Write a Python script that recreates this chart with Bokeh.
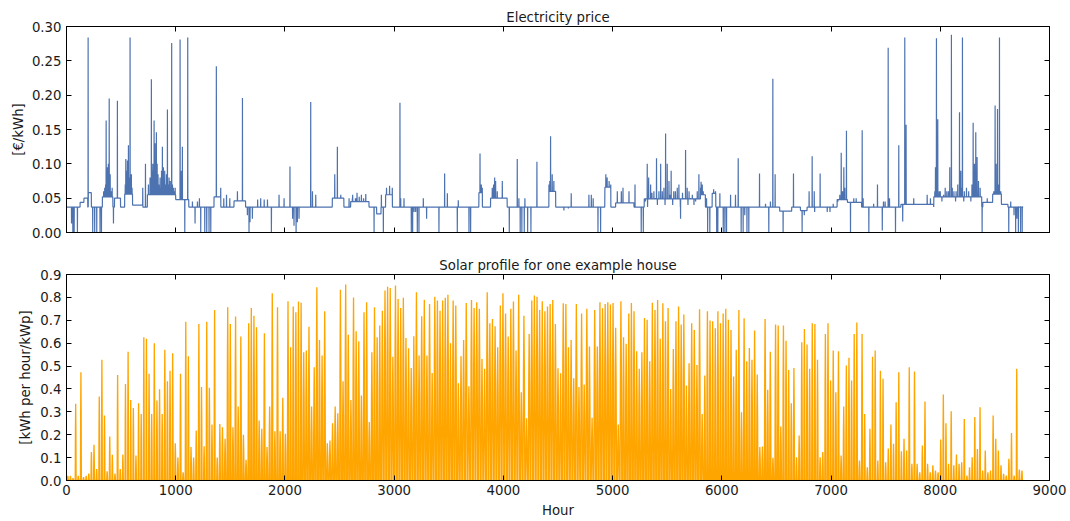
import numpy as np
from bokeh.plotting import figure
from bokeh.layouts import column
from bokeh.models import (LinearAxis, FixedTicker, PrintfTickFormatter, Range1d,
                          CustomLabelingPolicy)
from bokeh.embed import file_html
from bokeh.resources import INLINE

HOURS_PER_YEAR = 8760
X_TICKS = list(range(0, 9001, 1000))
PRICE_TICKS = [0.00, 0.05, 0.10, 0.15, 0.20, 0.25, 0.30]
SOLAR_TICKS = [0.0, 0.1, 0.2, 0.3, 0.4, 0.5, 0.6, 0.7, 0.8, 0.9]

# ---------------- electricity price [EUR/kWh], hourly ----------------
PRICE_BASE = 0.037

# blocks of hours where the price sits at another level
BAND_START = [125, 160, 200, 329, 440, 533, 605, 741, 1000, 1351, 1534, 2434,
              2602, 2840, 2922, 3776, 3883, 4417, 4929, 5028, 5290,
              5805, 5912, 6530, 6720, 7056, 7150, 7640, 7941, 8390, 8480, 8560]
BAND_END = [160, 195, 228, 425, 495, 605, 700, 1000, 1120, 1412, 1640, 2540,
            2770, 2880, 2983, 3807, 4035, 4478, 4983, 5196, 5805,
            5850, 5945, 6640, 6781, 7150, 7280, 7940, 8380, 8480, 8560, 8620]
BAND_LEVEL = [0.044, 0.05, 0.058, 0.052, 0.05, 0.056, 0.04, 0.055, 0.048, 0.052, 0.046, 0.05,
              0.045, 0.027, 0.055, 0.058, 0.05, 0.06, 0.066, 0.043, 0.049,
              0.055, 0.057, 0.031, 0.032, 0.048, 0.044, 0.041, 0.052, 0.044, 0.056, 0.041]

# single-hour price peaks
SPIKE_HOUR = [198, 340, 350, 358, 363, 370, 375, 383, 391, 395, 400, 410, 418, 466,
              538, 543, 550, 558, 567, 575, 582, 588, 594, 600, 698, 723,
              750, 765, 770, 777, 783, 790, 795, 802, 811, 815, 823, 830, 838, 845,
              857, 865, 870, 878, 887, 893, 899, 905, 915, 924, 930, 939, 950, 955,
              963, 970, 979, 985, 995, 1040, 1049, 1061, 1110, 1153, 1199, 1217,
              1372, 1412, 1440, 1465, 1495, 1565, 1611, 1750, 1778, 1810, 1840,
              1946, 1992, 2046, 2236, 2252, 2282, 2456, 2480, 2511, 2587, 2617, 2648,
              2620, 2645, 2660, 2680, 2700, 2720, 2740, 2883, 2930, 2958, 2983,
              3053, 3060, 3090, 3267, 3462, 3487, 3587, 3786, 3798, 3807,
              3898, 3910, 3920, 3929, 3944, 3990, 4011, 4127, 4142, 4197, 4307,
              4417, 4425, 4432, 4447, 4462, 4478, 4621, 4783, 4805, 4822,
              4929, 4938, 4950, 4968, 4983, 5043, 5080, 5095, 5150, 5205,
              5300, 5317, 5330, 5348, 5360, 5378, 5390, 5402, 5424, 5440, 5455,
              5470, 5485, 5500, 5516, 5525, 5536, 5560, 5575, 5592, 5607, 5640,
              5653, 5668, 5683, 5700, 5714, 5730, 5760, 5775, 5790, 5805,
              5821, 5836, 5860,
              5810, 5820, 5830, 5925, 5942, 5982, 6080, 6125, 6150, 6345, 6400,
              6445, 6467, 6488, 6656, 6799, 6827, 6846, 6900, 7020, 7062, 7080,
              7093, 7105, 7117, 7126, 7141, 7208, 7230, 7285, 7294, 7390, 7425,
              7480, 7495, 7523, 7535, 7620, 7675, 7687, 7757, 7880, 7910, 7950,
              7956, 7965, 7977, 7990, 8000, 8030, 8045, 8060, 8075, 8087, 8102,
              8110, 8125, 8145, 8160, 8176, 8188, 8195, 8203, 8220, 8240, 8260,
              8290, 8301, 8313, 8325, 8337, 8350, 8365, 8430, 8490,
              8502, 8511, 8524, 8533, 8542, 8554, 8645]
SPIKE_VALUE = [0.284, 0.06, 0.065, 0.07, 0.163, 0.075, 0.095, 0.1, 0.195, 0.085, 0.085, 0.06, 0.065, 0.192,
               0.07, 0.107, 0.09, 0.105, 0.127, 0.08, 0.284, 0.075, 0.085, 0.065, 0.065, 0.1,
               0.07, 0.08, 0.06, 0.223, 0.09, 0.1, 0.075, 0.163, 0.13, 0.07, 0.146, 0.1, 0.085, 0.07,
               0.08, 0.065, 0.09, 0.125, 0.095, 0.075, 0.09, 0.07, 0.085, 0.179, 0.07, 0.08, 0.075, 0.065,
               0.276, 0.07, 0.065, 0.06, 0.065, 0.281, 0.09, 0.125, 0.284, 0.045, 0.045, 0.05,
               0.242, 0.065, 0.05, 0.055, 0.05, 0.06, 0.196, 0.048, 0.05, 0.048, 0.048,
               0.055, 0.05, 0.096, 0.19, 0.06, 0.055, 0.085, 0.125, 0.055, 0.05, 0.05, 0.05,
               0.055, 0.05, 0.058, 0.052, 0.055, 0.05, 0.056, 0.055, 0.065, 0.068, 0.065,
               0.189, 0.05, 0.05, 0.05, 0.086, 0.057, 0.047, 0.115, 0.07, 0.065,
               0.065, 0.07, 0.08, 0.075, 0.06, 0.075, 0.05, 0.107, 0.05, 0.05, 0.103,
               0.07, 0.075, 0.14, 0.085, 0.075, 0.06, 0.057, 0.055, 0.055, 0.05,
               0.06, 0.085, 0.08, 0.075, 0.07, 0.06, 0.06, 0.065, 0.06, 0.07,
               0.045, 0.1, 0.08, 0.07, 0.058, 0.06, 0.05, 0.108, 0.06, 0.1, 0.06,
               0.065, 0.144, 0.1, 0.075, 0.055, 0.09, 0.06, 0.06, 0.065, 0.07, 0.058,
               0.05, 0.12, 0.065, 0.06, 0.05, 0.055, 0.045, 0.06, 0.085, 0.065,
               0.07, 0.055, 0.05,
               0.074, 0.066, 0.06, 0.063, 0.06, 0.057, 0.055, 0.055, 0.108, 0.086, 0.042,
               0.045, 0.224, 0.085, 0.086, 0.06, 0.111, 0.06, 0.086, 0.042, 0.045, 0.055,
               0.116, 0.06, 0.095, 0.065, 0.148, 0.05, 0.05, 0.149, 0.05, 0.042, 0.07,
               0.045, 0.045, 0.269, 0.05, 0.127, 0.284, 0.157, 0.05, 0.055, 0.05, 0.06,
               0.095, 0.283, 0.165, 0.06, 0.06, 0.055, 0.065, 0.06, 0.06, 0.095, 0.288,
               0.065, 0.06, 0.06, 0.07, 0.175, 0.09, 0.065, 0.284, 0.06, 0.065, 0.06,
               0.07, 0.16, 0.1, 0.146, 0.11, 0.075, 0.065, 0.05, 0.06,
               0.185, 0.1, 0.18, 0.07, 0.284, 0.06, 0.045]

# single-hour price drops
DIP_HOUR = [46, 58, 64, 70, 100, 240, 258, 277, 307, 320, 430, 1083, 1177, 1229, 1266,
            1284, 1305, 1321, 1656, 1671, 1680, 1702, 1876, 2070, 2083, 2102, 2114, 2129,
            2816, 2901, 3157, 3169, 3182, 3197, 3212, 3227, 3297, 3410, 3578, 3685, 3700,
            4054, 4154, 4169, 4191, 4222, 4252, 4554, 4595, 4866, 4890, 5262, 5281,
            5320, 5410, 5480, 5550, 5620, 5622, 5690, 5745, 8015, 8140, 8215, 8280,
            5870, 5890, 5953, 5963, 6013, 6028, 6043, 6177, 6195, 6210, 6230, 6247, 6430,
            6561, 6735, 6755, 6850, 6965, 6990, 7178, 7346, 7469, 7590, 7656, 8383, 8627,
            8675, 8690, 8702, 8715, 8735, 8750]
DIP_VALUE = [0.013, 0.0, 0.0, 0.0, 0.0, 0.0, 0.0, 0.0, 0.0, 0.0, 0.013, 0.0, 0.013, 0.0, 0.0,
             0.0, 0.0, 0.0, 0.025, 0.0, 0.015, 0.02, 0.0, 0.02, 0.01, 0.0, 0.015, 0.02,
             0.0, 0.0, 0.0, 0.0, 0.03, 0.03, 0.0, 0.0, 0.02, 0.0, 0.0, 0.0, 0.0,
             0.0, 0.0, 0.0, 0.0, 0.0, 0.0, 0.032, 0.035, 0.0, 0.0, 0.0, 0.0,
             0.037, 0.04, 0.04, 0.04, 0.037, 0.02, 0.04, 0.04, 0.045, 0.045, 0.045, 0.045,
             0.0, 0.0, 0.0, 0.0, 0.0, 0.0, 0.0, 0.0, 0.0, 0.025, 0.0, 0.0, 0.0,
             0.0, 0.0, 0.025, 0.03, 0.03, 0.03, 0.0, 0.0, 0.003, 0.0, 0.016, 0.0, 0.0,
             0.025, 0.0, 0.02, 0.0, 0.0, 0.0]

# ---------------- solar yield [kWh per hour / kWp] ----------------
# midday peak of each day of the year
DAILY_PEAK = [
    0.02, 0.02, 0.01, 0.335, 0.02, 0.473, 0.015, 0.02, 0.03, 0.124,
    0.156, 0.05, 0.367, 0.527, 0.284, 0.04, 0.192, 0.112, 0.03, 0.461,
    0.05, 0.114, 0.422, 0.563, 0.352, 0.317, 0.109, 0.338, 0.291, 0.626,
    0.619, 0.466, 0.291, 0.60, 0.349, 0.399, 0.291, 0.571, 0.434, 0.48,
    0.556, 0.163, 0.10, 0.466, 0.036, 0.694, 0.543, 0.146, 0.10, 0.218,
    0.684, 0.408, 0.15, 0.694, 0.405, 0.245, 0.745, 0.10, 0.247, 0.233,
    0.182, 0.757, 0.684, 0.233, 0.716, 0.323, 0.629, 0.20, 0.09, 0.687,
    0.754, 0.72, 0.67, 0.262, 0.226, 0.643, 0.146, 0.323, 0.818, 0.215,
    0.757, 0.215, 0.361, 0.204, 0.783, 0.582, 0.76, 0.735, 0.782, 0.777,
    0.56, 0.568, 0.672, 0.323, 0.495, 0.844, 0.614, 0.546, 0.739, 0.163,
    0.175, 0.25, 0.323, 0.294, 0.833, 0.434, 0.856, 0.637, 0.352, 0.80,
    0.652, 0.608, 0.371, 0.735, 0.779, 0.255, 0.56, 0.757, 0.626, 0.677,
    0.742, 0.83, 0.847, 0.841, 0.541, 0.852, 0.793, 0.754, 0.798, 0.623,
    0.578, 0.492, 0.63, 0.822, 0.546, 0.718, 0.79, 0.546, 0.771, 0.47,
    0.803, 0.786, 0.742, 0.786, 0.798, 0.811, 0.60, 0.786, 0.764, 0.425,
    0.543, 0.614, 0.776, 0.412, 0.789, 0.754, 0.779, 0.75, 0.531, 0.488,
    0.822, 0.687, 0.706, 0.674, 0.582, 0.764, 0.818, 0.73, 0.629, 0.75,
    0.782, 0.568, 0.812, 0.386, 0.72, 0.272, 0.64, 0.786, 0.808, 0.803,
    0.745, 0.783, 0.739, 0.76, 0.771, 0.789, 0.684, 0.49, 0.469, 0.774,
    0.771, 0.582, 0.614, 0.447, 0.771, 0.408, 0.73, 0.419, 0.75, 0.585,
    0.274, 0.745, 0.585, 0.779, 0.753, 0.771, 0.779, 0.769, 0.776, 0.667,
    0.245, 0.783, 0.626, 0.597, 0.73, 0.776, 0.739, 0.565, 0.488, 0.56,
    0.71, 0.702, 0.521, 0.777, 0.745, 0.789, 0.619, 0.774, 0.696, 0.754,
    0.40, 0.575, 0.696, 0.76, 0.681, 0.725, 0.415, 0.512, 0.687, 0.658,
    0.505, 0.748, 0.291, 0.459, 0.739, 0.699, 0.696, 0.665, 0.739, 0.687,
    0.73, 0.75, 0.702, 0.658, 0.454, 0.571, 0.745, 0.298, 0.709, 0.521,
    0.579, 0.527, 0.655, 0.463, 0.146, 0.148, 0.706, 0.396, 0.563, 0.099,
    0.681, 0.677, 0.236, 0.677, 0.611, 0.483, 0.338, 0.492, 0.102, 0.197,
    0.604, 0.662, 0.594, 0.488, 0.687, 0.684, 0.527, 0.102, 0.124, 0.64,
    0.687, 0.437, 0.568, 0.386, 0.565, 0.109, 0.323, 0.502, 0.536, 0.437,
    0.64, 0.69, 0.087, 0.64, 0.291, 0.058, 0.226, 0.541, 0.568, 0.087,
    0.48, 0.444, 0.08, 0.14, 0.245, 0.16, 0.342, 0.473, 0.128, 0.182,
    0.131, 0.495, 0.073, 0.476, 0.073, 0.036, 0.153, 0.345, 0.073, 0.036,
    0.066, 0.044, 0.036, 0.179, 0.376, 0.25, 0.073, 0.303, 0.066, 0.114,
    0.073, 0.08, 0.269, 0.022, 0.058, 0.102, 0.277, 0.138, 0.32, 0.044,
    0.131, 0.036, 0.044, 0.284, 0.182, 0.131, 0.066, 0.029, 0.022, 0.095,
    0.207, 0.022, 0.488, 0.048, 0.044,
]
# producing hours per day, by month
PRODUCING_HOURS = [8.0, 9.6, 11.6, 13.6, 15.2, 16.2, 15.8, 14.3, 12.4, 10.4, 8.6, 7.6]
MONTH_START_DAY = [0, 31, 59, 90, 120, 151, 181, 212, 243, 273, 304, 334]
# shape of a day: offsets as a fraction of half the producing span, yield as a fraction of the peak
DAY_SHAPE_OFFSET = [-1.0, -0.5, 0.0, 0.5, 1.0]
DAY_SHAPE_SHARE = [0.0, 0.65, 1.0, 0.65, 0.0]

# hourly price series
price = np.full(HOURS_PER_YEAR, PRICE_BASE)
for s, e, lvl in zip(BAND_START, BAND_END, BAND_LEVEL):
    price[s:e] = lvl
for h, v in zip(SPIKE_HOUR, SPIKE_VALUE):
    price[h] = v
for h, v in zip(DIP_HOUR, DIP_VALUE):
    price[h] = v
hours = np.arange(HOURS_PER_YEAR)

# solar series: zero at night, rising to the daily peak at noon
solar_x, solar_y = [0.0], [0.0]
for day, peak in enumerate(DAILY_PEAK):
    month = int(np.searchsorted(MONTH_START_DAY, day, side="right")) - 1
    half = PRODUCING_HOURS[month] / 2.0
    noon = day * 24 + 12
    for off, share in zip(DAY_SHAPE_OFFSET, DAY_SHAPE_SHARE):
        solar_x.append(noon + off * half)
        solar_y.append(peak * share)
solar_x.append(HOURS_PER_YEAR - 1)
solar_y.append(0.0)

FONT = "DejaVu Sans"
FONT_SIZE = "13.3px"
TEXT_COLOR = "#1a1a1a"
NO_LABELS = CustomLabelingPolicy(code="return new Set()")


def style_axis(ax, show_labels):
    ax.axis_line_color = "black"
    ax.axis_line_width = 1
    ax.major_tick_line_color = "black"
    ax.major_tick_in = 5
    ax.major_tick_out = 0
    ax.minor_tick_line_color = None
    ax.major_label_text_font = FONT
    ax.major_label_text_color = TEXT_COLOR
    ax.axis_label_text_font = FONT
    ax.axis_label_text_font_size = FONT_SIZE
    ax.axis_label_text_font_style = "normal"
    ax.axis_label_text_color = TEXT_COLOR
    if show_labels:
        ax.major_label_text_font_size = FONT_SIZE
    else:
        ax.major_label_policy = NO_LABELS
        ax.major_label_text_font_size = "0px"
        ax.major_label_standoff = 0


def make_panel(title, height, top, bottom, ymax, yticks, yfmt, ylabel, ylabel_standoff, xlabel):
    p = figure(width=1070, height=height, title=title,
               x_range=Range1d(0, 9000), y_range=Range1d(0, ymax),
               output_backend="svg", toolbar_location=None,
               min_border_left=66, min_border_right=21,
               min_border_top=top, min_border_bottom=bottom)
    p.background_fill_color = "white"
    p.border_fill_color = "white"
    p.outline_line_color = "black"
    p.outline_line_width = 1
    p.grid.visible = False
    p.title.align = "center"
    p.title.text_font = FONT
    p.title.text_font_size = FONT_SIZE
    p.title.text_font_style = "normal"
    p.title.text_color = TEXT_COLOR
    p.title.standoff = 3

    xt = FixedTicker(ticks=X_TICKS)
    yt = FixedTicker(ticks=yticks)

    bx = p.xaxis[0]
    bx.ticker = xt
    bx.formatter = PrintfTickFormatter(format="%d")
    style_axis(bx, xlabel is not None)
    if xlabel is not None:
        bx.axis_label = xlabel
        bx.major_label_standoff = 4
        bx.axis_label_standoff = 5

    ly = p.yaxis[0]
    ly.ticker = yt
    ly.formatter = PrintfTickFormatter(format=yfmt)
    style_axis(ly, True)
    ly.axis_label = ylabel
    ly.major_label_standoff = 5
    ly.axis_label_standoff = ylabel_standoff

    # tick marks along the top and right edges of the frame
    tx = LinearAxis(ticker=xt)
    style_axis(tx, False)
    p.add_layout(tx, "above")
    ry = LinearAxis(ticker=yt)
    style_axis(ry, False)
    p.add_layout(ry, "right")
    return p


p_price = make_panel("Electricity price", 250, 26, 18, 0.30, PRICE_TICKS, "%.2f",
                     "[€/kWh]", 3, None)
p_price.line(hours, price, line_color="#4C72B0", line_width=1.2)

p_solar = make_panel("Solar profile for one example house", 271, 24, 41, 0.9, SOLAR_TICKS, "%.1f",
                     "[kWh per hour/kWp]", 4, "Hour")
p_solar.line(solar_x, solar_y, line_color="#FFA500", line_width=1.33)

layout = column(p_price, p_solar, spacing=0)
open("out.html", "w").write(file_html(layout, INLINE))
